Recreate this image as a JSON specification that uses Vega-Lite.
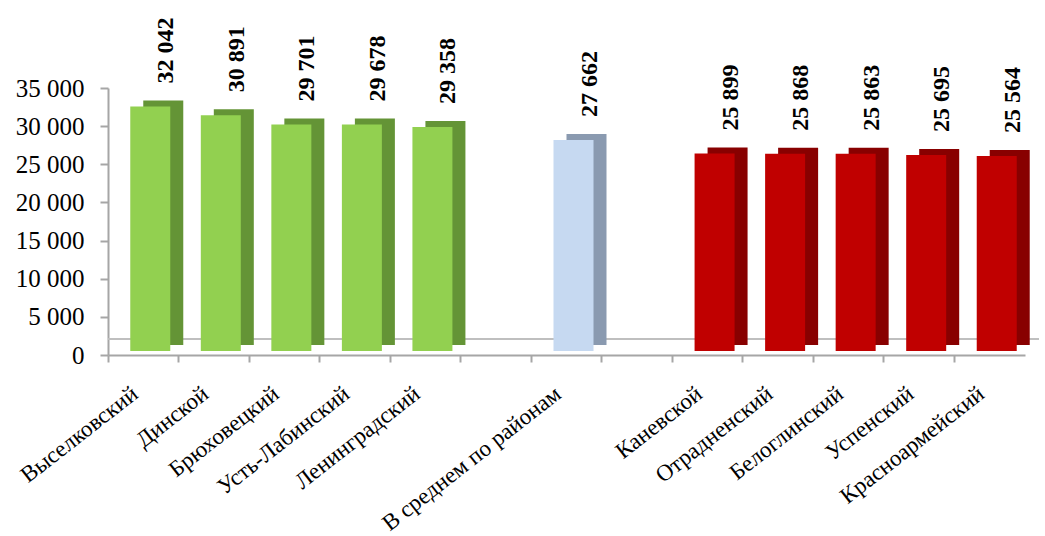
{
  "$schema": "https://vega.github.io/schema/vega-lite/v6.json",
  "width": 917,
  "height": 267,
  "autosize": {"type": "none"},
  "padding": {"left": 108, "top": 88, "right": 20, "bottom": 181},
  "background": "white",
  "config": {
    "view": {"stroke": null},
    "font": "Liberation Serif",
    "locale": {"number": {"decimal": ",", "thousands": " ", "grouping": [3], "currency": ["", ""]}}
  },
  "data": {
    "values": [
      {"region": "Выселковский", "value": 32042, "group": "top"},
      {"region": "Динской", "value": 30891, "group": "top"},
      {"region": "Брюховецкий", "value": 29701, "group": "top"},
      {"region": "Усть-Лабинский", "value": 29678, "group": "top"},
      {"region": "Ленинградский", "value": 29358, "group": "top"},
      {"region": "В среднем по районам", "value": 27662, "group": "avg"},
      {"region": "Каневской", "value": 25899, "group": "bottom"},
      {"region": "Отрадненский", "value": 25868, "group": "bottom"},
      {"region": "Белоглинский", "value": 25863, "group": "bottom"},
      {"region": "Успенский", "value": 25695, "group": "bottom"},
      {"region": "Красноармейский", "value": 25564, "group": "bottom"}
    ]
  },
  "encoding": {
    "x": {
      "field": "region",
      "type": "nominal",
      "sort": null,
      "scale": {
        "domain": ["Выселковский", "Динской", "Брюховецкий", "Усть-Лабинский", "Ленинградский", " ", "В среднем по районам", "  ", "Каневской", "Отрадненский", "Белоглинский", "Успенский", "Красноармейский"],
        "paddingInner": 0,
        "paddingOuter": 0
      },
      "axis": {
        "title": null,
        "labelAngle": -38,
        "labelFontSize": 23,
        "labelLimit": 0,
        "labelColor": "black",
        "labelFont": "Liberation Serif",
        "labelPadding": 20,
        "labelOffset": -15,
        "domainColor": "#A6A6A6",
        "domainWidth": 2,
        "tickColor": "#A6A6A6",
        "tickWidth": 2,
        "tickSize": 7,
        "bandPosition": 0
      }
    },
    "y": {
      "field": "value",
      "type": "quantitative",
      "scale": {"domain": [0, 35000]},
      "axis": {
        "title": null,
        "values": [0, 5000, 10000, 15000, 20000, 25000, 30000, 35000],
        "format": ",d",
        "grid": false,
        "labelFontSize": 25,
        "labelColor": "black",
        "labelFont": "Liberation Serif",
        "labelPadding": 16,
        "domainColor": "#A6A6A6",
        "domainWidth": 2,
        "tickColor": "#A6A6A6",
        "tickWidth": 2,
        "tickSize": 8
      }
    }
  },
  "layer": [
    {
      "mark": {"type": "rule", "color": "#BFBFBF", "strokeWidth": 2, "yOffset": -16, "xOffset": 14, "x2Offset": 20},
      "encoding": {"y": {"datum": 0}, "x": null}
    },
    {
      "mark": {"type": "bar", "width": 40, "xOffset": 20, "yOffset": -10, "y2Offset": -10},
      "encoding": {
        "color": {
          "field": "group",
          "type": "nominal",
          "scale": {"domain": ["top", "avg", "bottom"], "range": ["#649436", "#8A9AB0", "#880000"]},
          "legend": null
        }
      }
    },
    {
      "mark": {"type": "bar", "width": 40, "xOffset": 7, "yOffset": -4, "y2Offset": -2},
      "encoding": {
        "fill": {
          "field": "group",
          "type": "nominal",
          "scale": {"domain": ["top", "avg", "bottom"], "range": ["#92D050", "#C6D9F1", "#C00000"]},
          "legend": null
        }
      }
    },
    {
      "mark": {"type": "text", "angle": 270, "align": "left", "baseline": "middle", "fontWeight": "bold", "fontSize": 24, "font": "Liberation Serif", "color": "black", "xOffset": 23, "yOffset": -27},
      "encoding": {
        "text": {"field": "value", "type": "quantitative", "format": ",d"}
      }
    }
  ],
  "resolve": {"scale": {"color": "independent", "fill": "independent"}}
}
